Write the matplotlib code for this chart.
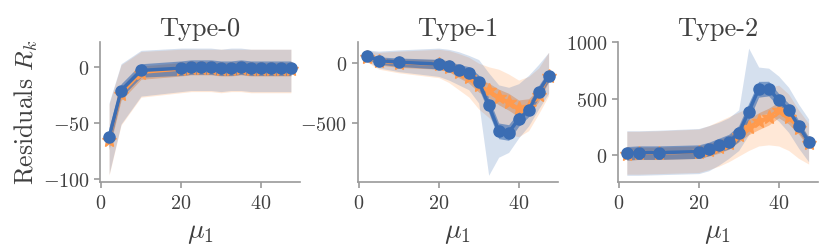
import numpy as np
import matplotlib
matplotlib.use("Agg")
import matplotlib.pyplot as plt

plt.rcParams['font.family'] = 'serif'
plt.rcParams['font.serif'] = ['cmr10']
plt.rcParams['mathtext.fontset'] = 'cm'
plt.rcParams['axes.formatter.use_mathtext'] = True

BLUE = '#3b6db3'
ORANGE = '#ff9a4d'
GREY = '#9a9a9a'
TEXT = '#404040'

mu1 = [2, 5, 10, 20, 22.5, 25, 27.5, 30, 32.5, 35, 37.5, 40, 42.5, 45, 47.5]

# Type-0
t0_blue = [-63, -21, -3, -1, 0, 0, 0, -1, -1, 0, -1, -1, -1, -1, -1]
t0_blue_in = [9, 6, 6, 6.5, 6.5, 6.5, 6.5, 6.5, 6.5, 6.5, 6.5, 6.5, 6.5, 6.5, 6.5]
t0_blue_hi = [-32, 3, 15, 17, 17, 17, 17, 16, 17, 17, 16, 16, 16, 16, 16]
t0_blue_lo = [-96, -51, -26, -22, -21, -21, -21, -22, -21, -21, -22, -22, -22, -22, -22]
t0_orange = [-65, -24, -5, -2, -1, -1, -1, -2, -2, -1, -2, -2, -2, -2, -2]
t0_orange_in = [9, 6, 6, 6, 6, 6, 6, 6, 6, 6, 6, 6, 6, 6, 6]
t0_orange_hi = [-33, 2, 14, 16, 16, 16, 16, 16, 16, 16, 16, 16, 16, 16, 16]
t0_orange_lo = [-97, -52, -27, -23, -22, -22, -22, -23, -22, -22, -23, -23, -23, -23, -23]

# Type-1
t1_blue = [61, 22, 8, -8, -20, -56, -78, -153, -347, -561, -575, -464, -389, -236, -106]
t1_blue_in = [25, 30, 35, 40, 40, 45, 50, 55, 60, 65, 65, 60, 55, 50, 45]
t1_blue_hi = [110, 100, 110, 125, 115, 95, 65, 30, -80, -180, -200, -170, -100, -10, 90]
t1_blue_lo = [20, -40, -70, -110, -140, -180, -220, -330, -930, -780, -740, -620, -520, -380, -250]
t1_orange = [55, 15, 0, -10, -30, -75, -115, -185, -225, -280, -320, -375, -360, -265, -110]
t1_orange_in = [25, 30, 35, 40, 40, 45, 50, 55, 60, 65, 70, 70, 65, 55, 45]
t1_orange_hi = [100, 90, 100, 115, 105, 80, 50, 0, -30, -50, -90, -140, -110, -40, 90]
t1_orange_lo = [10, -50, -80, -120, -160, -220, -280, -380, -450, -530, -590, -610, -560, -420, -270]

# Type-2
t2_blue = [15, 21, 21, 30, 53, 88, 118, 191, 383, 583, 589, 486, 403, 256, 118]
t2_blue_in = [60, 60, 60, 60, 60, 60, 65, 70, 75, 70, 65, 60, 55, 50, 40]
t2_blue_hi = [215, 215, 220, 235, 260, 290, 330, 400, 948, 780, 770, 700, 600, 450, 320]
t2_blue_lo = [-180, -180, -175, -165, -140, -90, -30, 40, 180, 350, 370, 300, 200, 60, -60]
t2_orange = [10, 15, 15, 25, 45, 75, 110, 180, 250, 300, 340, 400, 340, 240, 110]
t2_orange_in = [55, 55, 55, 55, 55, 60, 60, 65, 70, 75, 75, 70, 65, 55, 45]
t2_orange_hi = [210, 210, 215, 230, 260, 300, 340, 380, 420, 520, 600, 620, 540, 400, 280]
t2_orange_lo = [-170, -170, -165, -155, -130, -100, -60, -10, 40, 80, 90, 80, 40, -30, -80]

panels = [
    ("Type-0", t0_blue, t0_blue_in, t0_blue_hi, t0_blue_lo,
     t0_orange, t0_orange_in, t0_orange_hi, t0_orange_lo),
    ("Type-1", t1_blue, t1_blue_in, t1_blue_hi, t1_blue_lo,
     t1_orange, t1_orange_in, t1_orange_hi, t1_orange_lo),
    ("Type-2", t2_blue, t2_blue_in, t2_blue_hi, t2_blue_lo,
     t2_orange, t2_orange_in, t2_orange_hi, t2_orange_lo),
]

fig = plt.figure(figsize=(8.3, 2.53), dpi=100)
lefts = [100 / 830, 357.7 / 830, 617.7 / 830]
x = np.array(mu1)

for k, (title, bm, bi, bh, bl, om, oi, oh, ol) in enumerate(panels):
    ax = fig.add_axes([lefts[k], 0.278, 200 / 830, 0.553])
    bm, bi, om, oi = map(np.array, (bm, bi, om, oi))
    # orange series
    ax.fill_between(x, ol, oh, color=ORANGE, alpha=0.22, lw=0)
    ax.fill_between(x, om - oi, om + oi, color=ORANGE, alpha=0.55, lw=0)
    ax.plot(x, om, color=ORANGE, lw=2, marker='*', ms=10)
    # blue series
    ax.fill_between(x, bl, bh, color=BLUE, alpha=0.21, lw=0)
    ax.fill_between(x, bm - bi, bm + bi, color=BLUE, alpha=0.6, lw=0)
    ax.plot(x, bm, color=BLUE, lw=2.5, marker='o', ms=8)

    ax.set_title(title, fontsize=19, color=TEXT, pad=5)
    ax.set_xlabel(r'$\mu_1$', fontsize=20, color=TEXT, labelpad=5)
    if k == 0:
        ax.set_ylabel(r'Residuals $R_k$', fontsize=18.5, color=TEXT, labelpad=2)
    ax.set_xticks([0, 20, 40])
    for s in ('top', 'right'):
        ax.spines[s].set_visible(False)
    for s in ('left', 'bottom'):
        ax.spines[s].set_color(GREY)
        ax.spines[s].set_linewidth(1.2)
    ax.tick_params(colors=GREY, labelcolor=TEXT, labelsize=14.5, width=1.2, length=4)
    ax.tick_params(axis='x', pad=5)

ax_list = fig.axes
ax_list[0].set_yticks([-100, -50, 0])
ax_list[1].set_yticks([-500, 0])
ax_list[2].set_yticks([0, 500, 1000])

fig.savefig('out.png', dpi=100)
